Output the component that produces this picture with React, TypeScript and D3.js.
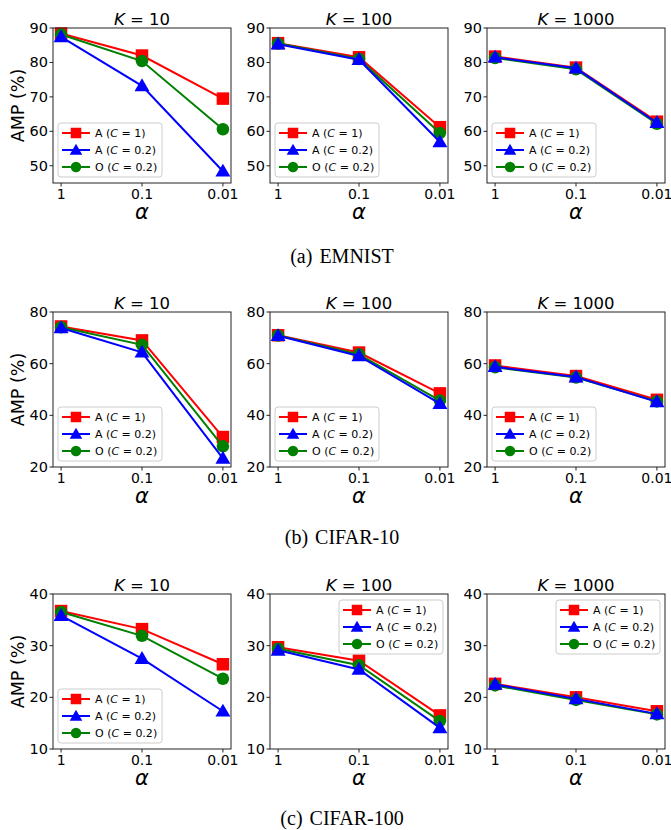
import React from "react";
import * as d3 from "d3";

// x categories and panel titles
const alphas = ["1", "0.1", "0.01"];
const kValues = ["10", "100", "1000"];

// EMNIST, one array per K (10, 100, 1000)
const emnistA1 = [[88.4, 82.0, 69.5], [85.6, 81.5, 61.2], [81.7, 78.5, 62.8]];
const emnistA02 = [[87.4, 73.2, 48.4], [85.3, 80.8, 56.9], [81.5, 78.3, 62.5]];
const emnistO02 = [[88.1, 80.4, 60.6], [85.5, 81.0, 59.5], [81.3, 78.0, 62.2]];

// CIFAR-10
const cifar10A1 = [[74.4, 69.0, 31.6], [71.0, 64.3, 48.5], [59.3, 55.2, 46.0]];
const cifar10A02 = [[73.8, 64.4, 23.3], [70.8, 63.0, 44.5], [58.8, 54.8, 45.2]];
const cifar10O02 = [[74.1, 67.3, 28.0], [70.9, 63.6, 45.7], [58.6, 54.6, 45.4]];

// CIFAR-100
const cifar100A1 = [[36.7, 33.2, 26.4], [29.7, 27.1, 16.5], [22.6, 20.0, 17.3]];
const cifar100A02 = [[35.8, 27.5, 17.3], [29.1, 25.4, 14.1], [22.5, 19.7, 16.8]];
const cifar100O02 = [[36.5, 31.9, 23.6], [29.4, 26.2, 15.4], [22.3, 19.5, 16.7]];

const captions = ["EMNIST", "CIFAR-10", "CIFAR-100"];
const captionTags = ["(a)", "(b)", "(c)"];
const yDomains = [[45, 90], [20, 80], [10, 40]];
const yTicks = [[50, 60, 70, 80, 90], [20, 40, 60, 80], [10, 20, 30, 40]];
// legend placement per panel
const legendPos = [["ll", "ll", "ll"], ["ll", "ll", "ll"], ["ll", "ur", "ur"]];

const rows = [
  { a1: emnistA1, a02: emnistA02, o02: emnistO02 },
  { a1: cifar10A1, a02: cifar10A02, o02: cifar10O02 },
  { a1: cifar100A1, a02: cifar100A02, o02: cifar100O02 },
];

const W = 671;
const H = 830;
const panelLeft = [53, 270, 487];
const panelW = 178;
const rowTop = [28, 312, 594];
const panelH = 155;
const font = "DejaVu Sans, sans-serif";

type Series = { key: string; color: string; shape: string; label: string; c: string };
const series: Series[] = [
  { key: "a1", color: "#ff0000", shape: "square", label: "A", c: "1" },
  { key: "a02", color: "#0000ff", shape: "triangle", label: "A", c: "0.2" },
  { key: "o02", color: "#008000", shape: "circle", label: "O", c: "0.2" },
];
// draw order: red, green, blue (blue ends on top)
const drawOrder = ["a1", "o02", "a02"];

const Marker = ({ shape, color, x, y, s }: any) => {
  if (shape === "square")
    return <rect x={x - s / 2} y={y - s / 2} width={s} height={s} fill={color} />;
  if (shape === "circle") return <circle cx={x} cy={y} r={s / 2} fill={color} />;
  const t = d3.symbol(d3.symbolTriangle, s * s * 0.62)();
  return <path d={t || ""} transform={`translate(${x},${y + 1})`} fill={color} />;
};

const Legend = ({ x, y }: { x: number; y: number }) => (
  <g transform={`translate(${x},${y})`}>
    <rect x={0} y={0} width={104} height={54} rx={3} fill="white" fillOpacity={0.8} stroke="#cccccc" strokeWidth={1} />
    {series.map((s, i) => {
      const ly = 10 + i * 17;
      return (
        <g key={s.key}>
          <line x1={4} x2={32} y1={ly} y2={ly} stroke={s.color} strokeWidth={2} />
          <Marker shape={s.shape} color={s.color} x={18} y={ly} s={10.5} />
          <text x={37} y={ly + 4} fontSize={11} fontFamily={font} fill="#000">
            {s.label} (<tspan fontStyle="italic">C</tspan> = {s.c})
          </text>
        </g>
      );
    })}
  </g>
);

const Panel = ({ r, k }: { r: number; k: number }) => {
  const left = panelLeft[k];
  const top = rowTop[r];
  const x = d3.scalePoint<string>().domain(alphas).range([0, panelW]).padding(0.1);
  const y = d3.scaleLinear().domain(yDomains[r]).range([panelH, 0]);
  const line = d3
    .line<number>()
    .x((_, i) => x(alphas[i]) as number)
    .y((d) => y(d));
  const data: any = rows[r];
  const pos = legendPos[r][k];
  const lx = pos === "ll" ? 5 : panelW - 7 - 102;
  const ly = pos === "ll" ? panelH - 6 - 54 : 6;
  return (
    <g transform={`translate(${left},${top})`}>
      <text x={panelW / 2} y={-3} textAnchor="middle" fontSize={16.5} fontFamily={font}>
        <tspan fontStyle="italic">K</tspan> = {kValues[k]}
      </text>
      {drawOrder.map((key) => {
        const s = series.find((d) => d.key === key)!;
        const vals: number[] = data[key][k];
        return (
          <g key={key}>
            <path d={line(vals) || ""} fill="none" stroke={s.color} strokeWidth={2} />
            {vals.map((v, i) => (
              <Marker key={i} shape={s.shape} color={s.color} x={x(alphas[i])} y={y(v)} s={12.5} />
            ))}
          </g>
        );
      })}
      <Legend x={lx} y={ly} />
      <rect x={0} y={0} width={panelW} height={panelH} fill="none" stroke="#222" strokeWidth={1} />
      {yTicks[r].map((t) => (
        <g key={t} transform={`translate(0,${y(t)})`}>
          <line x1={-3.5} x2={0} stroke="#222" />
          <text x={-5} y={5} textAnchor="end" fontSize={14.5} fontFamily={font}>
            {t}
          </text>
        </g>
      ))}
      {alphas.map((a) => (
        <g key={a} transform={`translate(${x(a)},${panelH})`}>
          <line y1={0} y2={3.5} stroke="#222" />
          <text y={16} textAnchor="middle" fontSize={14} fontFamily={font}>
            {a}
          </text>
        </g>
      ))}
      <text x={panelW / 2} y={panelH + 36} textAnchor="middle" fontSize={21} fontStyle="italic" fontFamily={font}>
        α
      </text>
      {k === 0 && (
        <text
          transform={`translate(${17 - left + 7},${panelH / 2}) rotate(-90)`}
          textAnchor="middle"
          fontSize={17.5}
          fontFamily={font}
        >
          AMP (%)
        </text>
      )}
    </g>
  );
};

export default function App() {
  const captionY = [263, 544, 825];
  return (
    <svg width={W} height={H} style={{ position: "absolute", left: 0, top: 0, background: "white" }}>
      <rect width={W} height={H} fill="white" />
      {[0, 1, 2].map((r) => (
        <g key={r}>
          {[0, 1, 2].map((k) => (
            <Panel key={k} r={r} k={k} />
          ))}
          <text x={342} y={captionY[r]} textAnchor="middle" fontSize={20} fontFamily="Liberation Serif, serif">
            {captionTags[r]}
            <tspan dx={7}>{captions[r]}</tspan>
          </text>
        </g>
      ))}
    </svg>
  );
}
